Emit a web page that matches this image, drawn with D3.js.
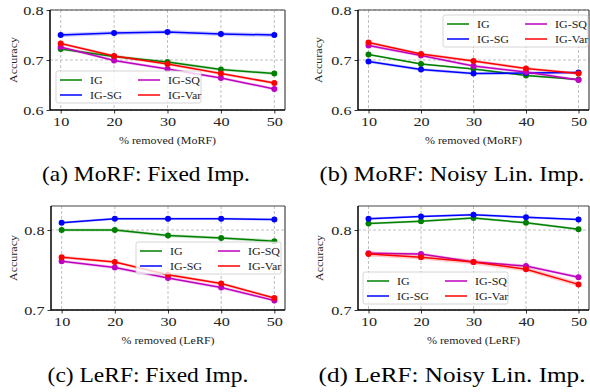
<!DOCTYPE html>
<html>
<head>
<meta charset="utf-8">
<script src="https://cdn.jsdelivr.net/npm/d3@7"></script>
<style>
  body { margin: 0; background: #fff; }
  svg { display: block; }
</style>
</head>
<body>
<script>
// x values (% removed)
const xValues = [10, 20, 30, 40, 50];
const seriesNames = ['IG', 'IG-SG', 'IG-SQ', 'IG-Var'];
const seriesColors = ['#008000', '#0000ff', '#bf00bf', '#ff0000'];

// (a) MoRF: Fixed Imp.
const morfFixedIG = [0.722, 0.707, 0.696, 0.681, 0.673];
const morfFixedSG = [0.750, 0.754, 0.756, 0.752, 0.750];
const morfFixedSQ = [0.726, 0.699, 0.682, 0.664, 0.642];
const morfFixedVar = [0.733, 0.708, 0.692, 0.673, 0.654];
const morfFixedErr = [0.003, 0.004, 0.003, 0.003];

// (b) MoRF: Noisy Lin. Imp.
const morfNoisyIG = [0.711, 0.692, 0.682, 0.669, 0.661];
const morfNoisySG = [0.697, 0.681, 0.673, 0.674, 0.675];
const morfNoisySQ = [0.729, 0.709, 0.688, 0.676, 0.660];
const morfNoisyVar = [0.735, 0.712, 0.698, 0.683, 0.673];
const morfNoisyErr = [0.002, 0.003, 0.003, 0.003];

// (c) LeRF: Fixed Imp.
const lerfFixedIG = [0.800, 0.800, 0.793, 0.790, 0.786];
const lerfFixedSG = [0.809, 0.814, 0.814, 0.814, 0.813];
const lerfFixedSQ = [0.761, 0.753, 0.740, 0.728, 0.712];
const lerfFixedVar = [0.766, 0.760, 0.744, 0.733, 0.715];
const lerfFixedErr = [0.002, 0.0015, 0.002, 0.002];

// (d) LeRF: Noisy Lin. Imp.
const lerfNoisyIG = [0.808, 0.811, 0.815, 0.809, 0.801];
const lerfNoisySG = [0.814, 0.817, 0.819, 0.816, 0.813];
const lerfNoisySQ = [0.771, 0.770, 0.760, 0.755, 0.741];
const lerfNoisyVar = [0.770, 0.766, 0.760, 0.751, 0.732];
const lerfNoisyErr = [0.0015, 0.0015, 0.002, 0.003];

const yTicksMorf = [0.6, 0.7, 0.8];
const yTicksLerf = [0.7, 0.8];

const panels = [
  { series: [morfFixedIG, morfFixedSG, morfFixedSQ, morfFixedVar], err: morfFixedErr,
    yDomain: [0.6, 0.8], yTicks: yTicksMorf, xLabel: '% removed (MoRF)', caption: '(a) MoRF: Fixed Imp.',
    box: { l: 50, t: 10, r: 285, b: 110 }, legend: { x: 56, y: 71 }, yLabelX: 13,
    captionX: 146, captionY: 181, captionW: 208 },
  { series: [morfNoisyIG, morfNoisySG, morfNoisySQ, morfNoisyVar], err: morfNoisyErr,
    yDomain: [0.6, 0.8], yTicks: yTicksMorf, xLabel: '% removed (MoRF)', caption: '(b) MoRF: Noisy Lin. Imp.',
    box: { l: 358, t: 10, r: 589, b: 110 }, legend: { x: 443, y: 15 }, yLabelX: 318,
    captionX: 452, captionY: 181, captionW: 265 },
  { series: [lerfFixedIG, lerfFixedSG, lerfFixedSQ, lerfFixedVar], err: lerfFixedErr,
    yDomain: [0.7, 0.83], yTicks: yTicksLerf, xLabel: '% removed (LeRF)', caption: '(c) LeRF: Fixed Imp.',
    box: { l: 51, t: 206, r: 285, b: 310 }, legend: { x: 136, y: 242 }, yLabelX: 13,
    captionX: 148, captionY: 382, captionW: 201 },
  { series: [lerfNoisyIG, lerfNoisySG, lerfNoisySQ, lerfNoisyVar], err: lerfNoisyErr,
    yDomain: [0.7, 0.83], yTicks: yTicksLerf, xLabel: '% removed (LeRF)', caption: '(d) LeRF: Noisy Lin. Imp.',
    box: { l: 358, t: 206, r: 589, b: 310 }, legend: { x: 363, y: 272 }, yLabelX: 319,
    captionX: 452, captionY: 382, captionW: 267 }
];

const svg = d3.select('body')
  .append('svg')
  .attr('width', 590)
  .attr('height', 392);

const serif = "'Liberation Serif', 'Times New Roman', serif";
const widen = 1.2; // the figure's serif font is wider than Times

// place a text at (x, y), widened horizontally in its own frame
function putText(parent, x, y, str, size, rot) {
  return parent.append('text')
    .attr('transform', `translate(${x},${y})` + (rot ? ` rotate(${rot})` : '') + ` scale(${widen},1)`)
    .attr('font-family', serif).attr('font-size', size).attr('fill', '#222')
    .text(str);
}

panels.forEach(p => {
  const { l, t, r, b } = p.box;
  const x = d3.scaleLinear().domain([8, 52]).range([l, r]);
  const y = d3.scaleLinear().domain(p.yDomain).range([b, t]);
  const g = svg.append('g');

  // grid
  g.selectAll('.gx').data(xValues).enter().append('line')
    .attr('x1', d => x(d)).attr('x2', d => x(d))
    .attr('y1', t).attr('y2', b)
    .attr('stroke', '#b0b0b0').attr('stroke-dasharray', '3,2').attr('stroke-width', 0.8);
  g.selectAll('.gy').data(p.yTicks).enter().append('line')
    .attr('x1', l).attr('x2', r)
    .attr('y1', d => y(d)).attr('y2', d => y(d))
    .attr('stroke', '#b0b0b0').attr('stroke-dasharray', '3,2').attr('stroke-width', 0.8);

  // bands, lines, markers
  p.series.forEach((vals, i) => {
    const pts = xValues.map((xv, j) => ({ x: xv, y: vals[j] }));
    const e = p.err[i];
    const area = d3.area().x(d => x(d.x)).y0(d => y(d.y - e)).y1(d => y(d.y + e));
    g.append('path').datum(pts)
      .attr('d', area)
      .attr('fill', seriesColors[i])
      .attr('fill-opacity', 0.2);
    const line = d3.line().x(d => x(d.x)).y(d => y(d.y));
    g.append('path').datum(pts)
      .attr('d', line)
      .attr('fill', 'none')
      .attr('stroke', seriesColors[i])
      .attr('stroke-width', 1.5);
    g.selectAll(null).data(pts).enter().append('circle')
      .attr('cx', d => x(d.x)).attr('cy', d => y(d.y))
      .attr('r', 3)
      .attr('fill', seriesColors[i]);
  });

  // axes
  const xAxis = d3.axisBottom(x).tickValues(xValues).tickSize(3.5).tickPadding(3).tickFormat(d3.format('d'));
  const yAxis = d3.axisLeft(y).tickValues(p.yTicks).tickSize(3.5).tickPadding(3).tickFormat(d3.format('.1f'));
  const gx = g.append('g').attr('transform', `translate(0,${b})`).call(xAxis);
  const gy = g.append('g').attr('transform', `translate(${l},0)`).call(yAxis);
  [gx, gy].forEach(a => {
    a.select('.domain').remove();
    a.selectAll('text').attr('font-family', serif).attr('font-size', 13.5).attr('fill', '#222');
    a.selectAll('line').attr('stroke', '#000').attr('stroke-width', 0.8);
  });
  gx.selectAll('text').attr('transform', `scale(${widen},1)`);
  gy.selectAll('text').attr('x', -6.5 / widen).attr('transform', `scale(${widen},1)`);

  // frame
  g.append('line').attr('x1', l).attr('x2', r).attr('y1', t).attr('y2', t).attr('stroke', '#444').attr('stroke-width', 1.2);
  g.append('line').attr('x1', r).attr('x2', r).attr('y1', t).attr('y2', b).attr('stroke', '#444').attr('stroke-width', 1.2);
  g.append('line').attr('x1', l).attr('x2', l).attr('y1', t).attr('y2', b).attr('stroke', '#000').attr('stroke-width', 1.5);
  g.append('line').attr('x1', l).attr('x2', r).attr('y1', b).attr('y2', b).attr('stroke', '#000').attr('stroke-width', 1.5);

  // axis labels
  putText(g, (l + r) / 2, b + 34, p.xLabel, 10).attr('text-anchor', 'middle');
  putText(g, p.yLabelX + 4, (t + b) / 2, 'Accuracy', 10, -90).attr('text-anchor', 'middle');

  // legend
  const lg = g.append('g').attr('transform', `translate(${p.legend.x},${p.legend.y})`);
  lg.append('rect')
    .attr('width', 145).attr('height', 32).attr('rx', 2)
    .attr('fill', '#fff').attr('fill-opacity', 0.8)
    .attr('stroke', '#ccc').attr('stroke-width', 0.8);
  seriesNames.forEach((name, i) => {
    const col = i < 2 ? 0 : 1;
    const row = i % 2;
    const lx = 4 + col * 78;
    const ly = 9 + row * 15;
    lg.append('line')
      .attr('x1', lx).attr('x2', lx + 22)
      .attr('y1', ly).attr('y2', ly)
      .attr('stroke', seriesColors[i]).attr('stroke-width', 1.5);
    putText(lg, lx + 30, ly + 3.5, name, 10);
  });

  // caption, stretched to the width it has in the figure
  const cap = svg.append('text')
    .attr('text-anchor', 'middle')
    .attr('font-family', serif).attr('font-size', 20).attr('fill', '#000')
    .text(p.caption);
  const k = p.captionW / cap.node().getComputedTextLength();
  cap.attr('transform', `translate(${p.captionX},${p.captionY}) scale(${k},1)`);
});
</script>
</body>
</html>
